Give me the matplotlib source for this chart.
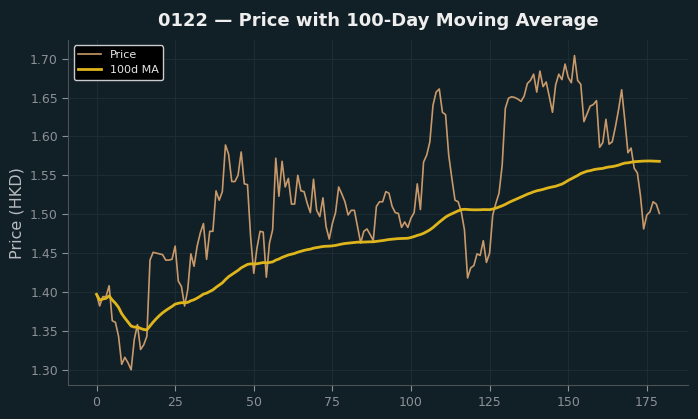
import numpy as np
import pandas as pd
import matplotlib
matplotlib.use("Agg")
import matplotlib.pyplot as plt

# Price (day index 0..179), HKD
price = [
    1.397, 1.382, 1.394, 1.394, 1.408, 1.363, 1.361, 1.343, 1.307, 1.316,
    1.309, 1.300, 1.339, 1.358, 1.326, 1.332, 1.343, 1.441, 1.451, 1.450,
    1.449, 1.448, 1.441, 1.441, 1.442, 1.459, 1.414, 1.407, 1.382, 1.403,
    1.449, 1.433, 1.459, 1.476, 1.488, 1.442, 1.478, 1.478, 1.530, 1.518,
    1.529, 1.589, 1.577, 1.542, 1.542, 1.550, 1.580, 1.539, 1.538, 1.471,
    1.424, 1.456, 1.478, 1.477, 1.419, 1.463, 1.480, 1.572, 1.523, 1.568,
    1.535, 1.546, 1.513, 1.513, 1.550, 1.530, 1.529, 1.514, 1.502, 1.545,
    1.505, 1.497, 1.521, 1.484, 1.468, 1.488, 1.502, 1.535, 1.526, 1.516,
    1.499, 1.505, 1.505, 1.484, 1.463, 1.478, 1.481, 1.474, 1.466, 1.510,
    1.516, 1.516, 1.529, 1.527, 1.510, 1.502, 1.501, 1.483, 1.490, 1.483,
    1.495, 1.502, 1.539, 1.506, 1.567, 1.576, 1.593, 1.640, 1.657, 1.661,
    1.631, 1.628, 1.576, 1.546, 1.518, 1.516, 1.503, 1.480, 1.418, 1.431,
    1.434, 1.449, 1.447, 1.466, 1.438, 1.450, 1.499, 1.514, 1.527, 1.563,
    1.636, 1.649, 1.651, 1.650, 1.648, 1.645, 1.652, 1.668, 1.672, 1.680,
    1.657, 1.684, 1.664, 1.670, 1.651, 1.631, 1.666, 1.680, 1.673, 1.693,
    1.676, 1.669, 1.704, 1.672, 1.667, 1.619, 1.629, 1.639, 1.641, 1.646,
    1.586, 1.592, 1.622, 1.590, 1.593, 1.612, 1.634, 1.660, 1.621, 1.579,
    1.585, 1.559, 1.553, 1.523, 1.481, 1.499, 1.503, 1.516, 1.513, 1.501,
]

ticker = "0122"
window = 100

df = pd.DataFrame({"Price": price})
df["MA"] = df["Price"].rolling(window, min_periods=1).mean()

bg = "#111f26"
plt.rcParams["font.family"] = ["DejaVu Sans"]

fig, ax = plt.subplots(figsize=(6.98, 4.19), dpi=100)
fig.patch.set_facecolor(bg)
ax.set_facecolor(bg)

ax.plot(df.index, df["Price"], color="#c8996a", lw=1.2, label="Price")
ax.plot(df.index, df["MA"], color="#dfb51c", lw=2.0, label=f"{window}d MA")

ax.set_title(f"{ticker} \u2014 Price with {window}-Day Moving Average",
             color="#eeeeee", fontsize=13, fontweight="bold", pad=10)
ax.set_ylabel("Price (HKD)", color="#b8bcc0", fontsize=11.5)
ax.set_yticks(np.arange(1.30, 1.701, 0.05))
ax.set_xticks(np.arange(0, 176, 25))
ax.tick_params(colors="#8c9196", labelsize=9, length=4)
ax.grid(True, color="#1d2b32", lw=0.8)

for s in ["top", "right"]:
    ax.spines[s].set_visible(False)
for s in ["left", "bottom"]:
    ax.spines[s].set_color("#4b5155")

leg = ax.legend(loc="upper left", fontsize=8, facecolor="black",
                edgecolor="#c9cccf", framealpha=1.0, labelcolor="#e6e6e6")

plt.subplots_adjust(left=0.098, right=0.985, bottom=0.08, top=0.905)
plt.savefig("out.png", dpi=100, facecolor=bg)
